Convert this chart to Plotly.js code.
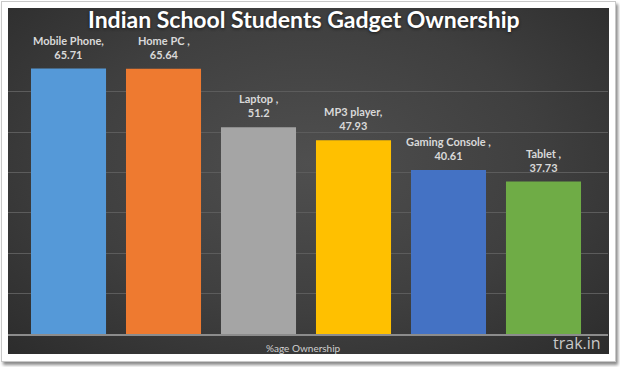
<!DOCTYPE html>
<html>
<head>
<meta charset="utf-8">
<script src="https://cdn.plot.ly/plotly-3.0.1.min.js"></script>
<style>
  html, body { margin: 0; padding: 0; background: #ffffff; }
  #frame { position: absolute; left: 1px; top: 1px; width: 613px; height: 359px;
           background: #ffffff; border: 1px solid #c8c8c8; box-shadow: 2px 3px 3px #8a8a8a; }
  #panel { position: absolute; left: 8px; top: 8px; width: 601px; height: 346px;
           background: radial-gradient(ellipse at 50% 45%, #4f4f4f 0%, #3f3f3f 55%, #2c2c2c 100%); }
  #chart { position: absolute; left: 0; top: 0; width: 620px; height: 367px; }
</style>
</head>
<body>
<div id="frame"></div>
<div id="panel"></div>
<div id="chart"></div>
<script>
const categories = ["Mobile Phone", "Home PC", "Laptop", "MP3 player", "Gaming Console", "Tablet"];
const labelNames = ["Mobile Phone,", "Home PC ,", "Laptop ,", "MP3 player,", "Gaming Console ,", "Tablet ,"];
const values = [65.71, 65.64, 51.2, 47.93, 40.61, 37.73];
const colors = ["#5599d8", "#ee7a30", "#a5a5a5", "#ffc000", "#4472c4", "#6fac46"];
const axisLabel = "%age Ownership";
const watermark = "trak.in";

const trace = {
  type: "bar",
  x: categories,
  y: values,
  width: 0.79,
  marker: { color: colors, line: { width: 0 } },
  hoverinfo: "none"
};

const annotations = categories.map((c, i) => ({
  x: c, y: values[i], xref: "x", yref: "y",
  text: labelNames[i] + "<br>" + values[i],
  showarrow: false, yanchor: "bottom", yshift: 6,
  font: { family: "Lato", size: 11, color: "#d9d9d9", weight: "bold" }
}));
annotations.push({
  x: 0.493, y: 0, xref: "paper", yref: "paper", yanchor: "top", yshift: -6,
  text: axisLabel, showarrow: false,
  font: { family: "Lato", size: 10, color: "#d0d0d0" }
});
annotations.push({
  x: 0.992, y: -0.032, xref: "paper", yref: "paper", xanchor: "right", yanchor: "middle",
  text: watermark, showarrow: false,
  font: { family: "Open Sans", size: 16, color: "#c8c8c8" }
});

const layout = {
  width: 620, height: 367,
  margin: { l: 8, r: 12, t: 51, b: 33 },
  paper_bgcolor: "rgba(0,0,0,0)",
  plot_bgcolor: "rgba(0,0,0,0)",
  title: {
    text: "Indian School Students Gadget Ownership",
    x: 0.49, xanchor: "center", y: 1 - 20 / 367, yanchor: "middle", yref: "container",
    font: { family: "Lato", size: 23, color: "#ffffff", weight: "bold",
            shadow: "0px 1px 3px #1a1a1a" }
  },
  showlegend: false,
  xaxis: {
    range: [-0.637, 5.679],
    showticklabels: false, ticks: "", showgrid: false, zeroline: false,
    showline: true, linecolor: "#8c8c8c", linewidth: 1.5, fixedrange: true
  },
  yaxis: {
    range: [0, 70.05], dtick: 10, showticklabels: false, ticks: "",
    showgrid: true, gridcolor: "#5c5c5c", gridwidth: 1, zeroline: false, fixedrange: true
  },
  annotations: annotations
};

Plotly.newPlot("chart", [trace], layout, { displayModeBar: false, staticPlot: true });
</script>
</body>
</html>
